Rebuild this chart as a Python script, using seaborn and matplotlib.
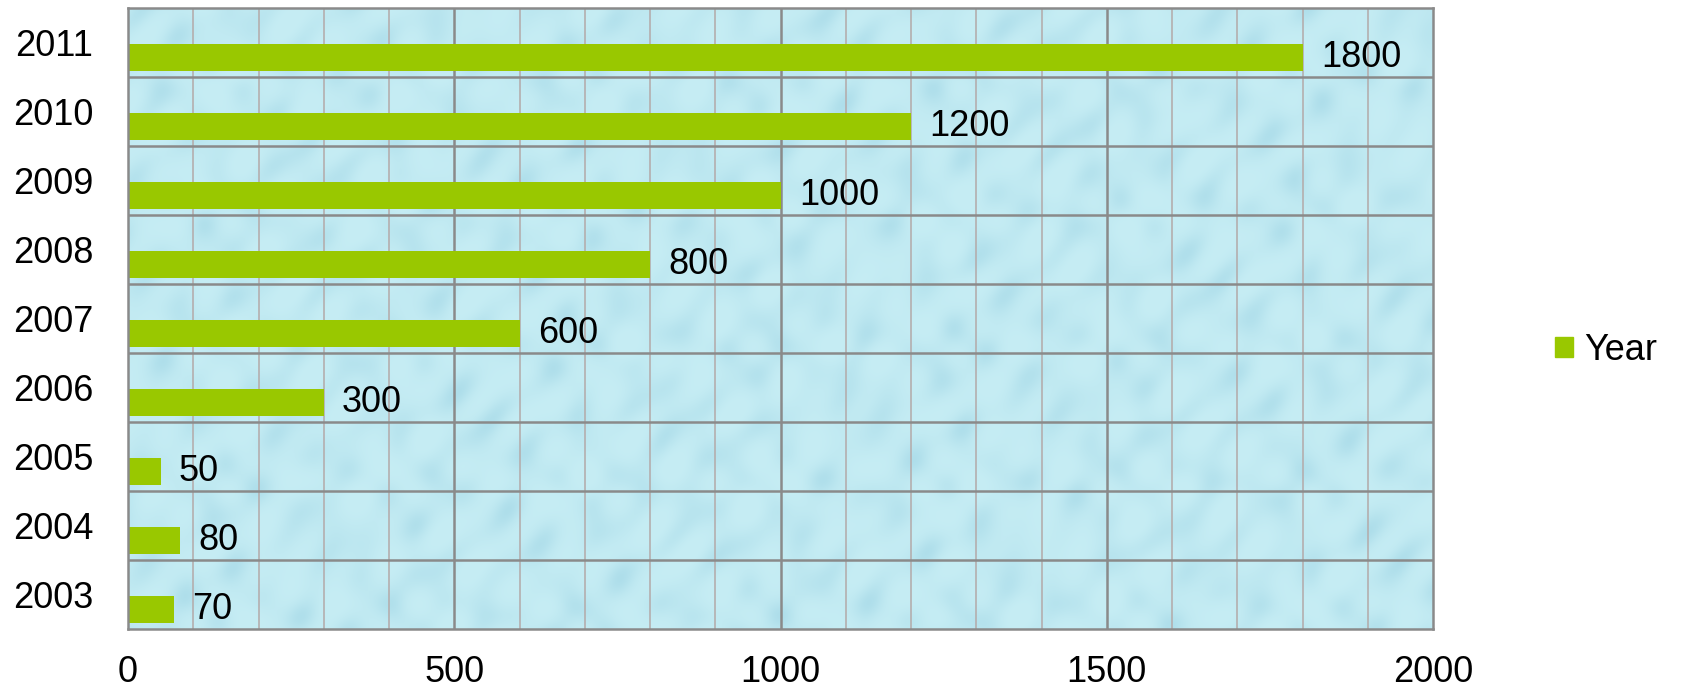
import numpy as np
import pandas as pd
import matplotlib
matplotlib.use("Agg")
import matplotlib.pyplot as plt
from matplotlib.ticker import MultipleLocator
from matplotlib.patches import Patch
import seaborn as sns

years = ["2011", "2010", "2009", "2008", "2007", "2006", "2005", "2004", "2003"]
values = [1800, 1200, 1000, 800, 600, 300, 50, 80, 70]
series_name = "Year"

sns.set_theme(style="white")
plt.rcParams["font.family"] = ["Liberation Sans", "DejaVu Sans"]
plt.rcParams["text.color"] = "black"
plt.rcParams["xtick.color"] = "black"
plt.rcParams["ytick.color"] = "black"

bar_color = "#99c800"
df = pd.DataFrame({"year": years, "value": values})

fig = plt.figure(figsize=(16.82, 6.91), dpi=100)
ax = fig.add_axes([0.0761, 0.0897, 0.852 - 0.0761, 0.989 - 0.0897])

# light water-drop style backdrop
h, w = 400, 900
yy, xx = np.mgrid[0:h, 0:w] / 18.0
tex = (np.sin(xx * 1.7 + np.sin(yy * 1.3)) * np.cos(yy * 1.9 + np.sin(xx * 0.9))
       + 0.6 * np.sin(xx * 3.1 + yy * 2.3) * np.cos(xx * 0.7 - yy * 1.1)) / 1.6
base = np.array([198, 237, 244]) / 255.0
shade = np.array([158, 212, 228]) / 255.0
t = np.clip((tex + 1) / 2, 0, 1)[..., None] ** 2.2
img = base * (1 - 0.6 * t) + shade * 0.6 * t
ax.imshow(img, extent=(0, 2000, 8.5, -0.5), aspect="auto", zorder=0,
          interpolation="bilinear")

sns.barplot(data=df, x="value", y="year", order=years, orient="h",
            color=bar_color, saturation=1, width=0.4, linewidth=0,
            ax=ax, zorder=3)

# bars sit in the lower part of each category band
for p in ax.patches:
    p.set_y(p.get_y() + 0.22)
    p.set_edgecolor("none")

for p, v in zip(ax.patches, values):
    ax.text(p.get_width() + 28, p.get_y() + p.get_height() / 2, str(v),
            va="center", ha="left", fontsize=26, color="black", zorder=4)

ax.set_xlim(0, 2000)
ax.set_ylim(8.5, -0.5)
ax.xaxis.set_major_locator(MultipleLocator(500))
ax.xaxis.set_minor_locator(MultipleLocator(100))
ax.set_yticks(range(len(years)))

ax.grid(False)
for xv in range(100, 2000, 100):
    major = xv % 500 == 0
    ax.axvline(xv, color="#8a8a8a" if major else "#b4aeae",
               lw=1.8 if major else 1.2, zorder=1)
for yv in np.arange(0.5, len(years) - 0.5, 1):
    ax.axhline(yv, color="#8a8a8a", lw=1.8, zorder=1)

ax.tick_params(axis="x", which="both", length=0, labelsize=26, pad=19,
               labelcolor="black")
ax.tick_params(axis="y", which="both", length=0, labelsize=26, pad=25,
               labelcolor="black")
ax.set_xlabel("")
ax.set_ylabel("")
for s in ax.spines.values():
    s.set_color("#8a8a8a")
    s.set_linewidth(1.8)
    s.set_zorder(5)

fig.legend(handles=[Patch(color=bar_color, label=series_name)],
           loc="center left", bbox_to_anchor=(0.916, 0.493), frameon=False,
           fontsize=26, handlelength=0.5, handleheight=0.5, handletextpad=0.3,
           borderaxespad=0, labelcolor="black")

fig.savefig("out.png", dpi=100)
